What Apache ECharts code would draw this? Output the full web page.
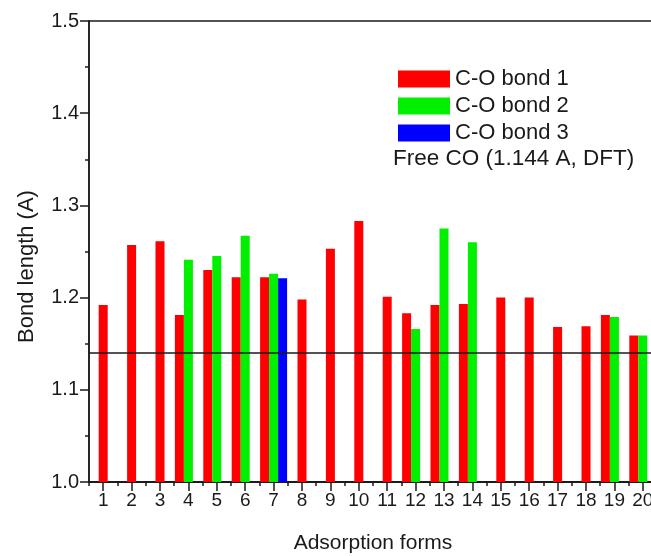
<!DOCTYPE html>
<html lang="en">
  <head>
    <meta charset="UTF-8" />
    <title>C-O bond lengths</title>
    <script src="https://cdn.jsdelivr.net/npm/echarts@6.0.0/dist/echarts.min.js"></script>
  </head>
  <body style="margin: 0">
    <div id="main" style="width: 651px; height: 556px"></div>
    <script type="text/javascript">
      // adsorption forms 1..20
      const forms = ['1', '2', '3', '4', '5', '6', '7', '8', '9', '10',
        '11', '12', '13', '14', '15', '16', '17', '18', '19', '20'];

      // C-O bond lengths (A)
      const bond1 = [1.192, 1.257, 1.261, 1.181, 1.230, 1.222, 1.222, 1.198, 1.253, 1.283,
        1.201, 1.183, 1.192, 1.193, 1.200, 1.200, 1.168, 1.169, 1.181, 1.159];
      const bond2 = [null, null, null, 1.241, 1.245, 1.267, 1.226, null, null, null,
        null, 1.166, 1.275, 1.260, null, null, null, null, 1.179, 1.159];
      const bond3 = [null, null, null, null, null, null, 1.221, null, null, null,
        null, null, null, null, null, null, null, null, null, null];

      const freeCO = 1.144;
      const yTicks = [1.0, 1.1, 1.2, 1.3, 1.4, 1.5];

      // forms with only one bond get a centred bar, the others a group
      const bond1Single = bond1.map((v, i) => (bond2[i] == null ? v : null));
      const bond1Group = bond1.map((v, i) => (bond2[i] == null ? null : v));

      const font = 'Arial, "Liberation Sans", sans-serif';
      const ink = '#1a1a1a';
      const gridBox = { left: 89, top: 21, width: 568, bottom: 74, outerBoundsMode: 'none' };

      let myChart = echarts.init(document.getElementById('main'));

      let options = {
        animation: false,
        textStyle: { fontFamily: font, color: ink },
        grid: [
          Object.assign({ show: true, borderColor: ink, borderWidth: 1.5 }, gridBox),
          // same box again, only for the grouped bars and centre ticks
          Object.assign({}, gridBox)
        ],
        legend: {
          orient: 'vertical',
          left: 393, top: 63,
          itemWidth: 52, itemHeight: 17, itemGap: 5,
          icon: 'rect',
          textStyle: { fontSize: 22, color: ink, fontFamily: font },
          data: ['C-O bond 1', 'C-O bond 2', 'C-O bond 3']
        },
        graphic: [{
          type: 'text', left: 393, top: 147,
          style: { text: 'Free CO (1.144 A, DFT)', fontSize: 22.5, fontFamily: font, fill: ink }
        }],
        xAxis: [
          {
            // boundary ticks (short) and labels
            type: 'category',
            gridIndex: 0,
            data: forms,
            name: 'Adsorption forms',
            nameLocation: 'middle',
            nameGap: 51,
            nameTextStyle: { fontSize: 21, color: ink },
            axisLine: { lineStyle: { color: ink, width: 1.5 } },
            axisTick: { show: true, alignWithLabel: false, interval: 0, length: 4, lineStyle: { color: ink, width: 1.5 } },
            axisLabel: { interval: 0, fontSize: 19, color: ink, margin: 9 }
          },
          {
            // centre ticks (long)
            type: 'category',
            gridIndex: 1,
            data: forms,
            position: 'bottom',
            axisLine: { show: true, lineStyle: { color: ink, width: 1.5 } },
            axisLabel: { show: false },
            axisTick: { show: true, alignWithLabel: true, interval: 0, length: 9, lineStyle: { color: ink, width: 1.5 } }
          }
        ],
        yAxis: [
          {
            type: 'value',
            gridIndex: 0,
            min: 1.0, max: 1.5, interval: 0.1,
            name: 'Bond length (A)',
            nameLocation: 'middle',
            nameGap: 51,
            nameTextStyle: { fontSize: 22, color: ink, padding: [0, 30, 0, 0] },
            axisLine: { show: true, lineStyle: { color: ink, width: 1.5 } },
            axisTick: { show: true, length: 9, lineStyle: { color: ink, width: 1.5 } },
            minorTick: { show: true, splitNumber: 2, length: 4, lineStyle: { color: ink, width: 1.5 } },
            splitLine: { show: false },
            axisLabel: {
              fontSize: 20, color: ink, margin: 10,
              formatter: (v) => (yTicks.some((t) => Math.abs(t - v) < 1e-9) ? v.toFixed(1) : '')
            }
          },
          {
            type: 'value',
            gridIndex: 1,
            min: 1.0, max: 1.5, interval: 0.1,
            axisLine: { show: false },
            axisTick: { show: false },
            axisLabel: { show: false },
            splitLine: { show: false }
          }
        ],
        series: [
          {
            name: 'C-O bond 1', type: 'bar', xAxisIndex: 0, yAxisIndex: 0,
            barWidth: 9, itemStyle: { color: '#ff0000' },
            data: bond1Single
          },
          {
            name: 'C-O bond 1', type: 'bar', xAxisIndex: 1, yAxisIndex: 1,
            barWidth: 9, barGap: '0%', itemStyle: { color: '#ff0000' },
            data: bond1Group
          },
          {
            name: 'C-O bond 2', type: 'bar', xAxisIndex: 1, yAxisIndex: 1,
            barWidth: 9, barGap: '0%', itemStyle: { color: '#00f000' },
            data: bond2
          },
          {
            name: 'C-O bond 3', type: 'bar', xAxisIndex: 1, yAxisIndex: 1,
            barWidth: 9, barGap: '0%', itemStyle: { color: '#0000ff' },
            data: bond3
          },
          {
            name: 'Free CO', type: 'line', data: [], xAxisIndex: 0, yAxisIndex: 0,
            markLine: {
              silent: true, symbol: 'none', label: { show: false },
              lineStyle: { color: ink, width: 1.5, type: 'solid' },
              data: [{ yAxis: freeCO }]
            }
          }
        ]
      };

      myChart.setOption(options);
    </script>
  </body>
</html>
